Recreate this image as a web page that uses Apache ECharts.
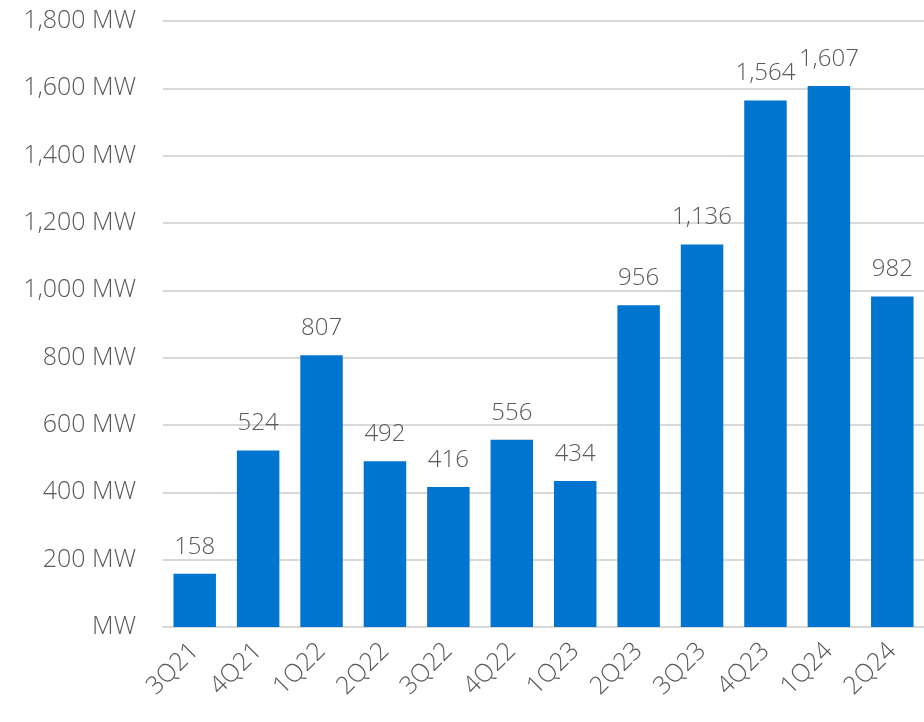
<!DOCTYPE html>
<html><head><meta charset="utf-8">
<script src="https://cdn.jsdelivr.net/npm/echarts@6/dist/echarts.min.js"></script>
<style>html,body{margin:0;padding:0;background:#fff}#c{width:924px;height:722px}</style>
</head><body><div id="c"></div>
<script>
const categories = ['3Q21','4Q21','1Q22','2Q22','3Q22','4Q22','1Q23','2Q23','3Q23','4Q23','1Q24','2Q24'];
const values = [158,524,807,492,416,556,434,956,1136,1564,1607,982];
const yTicks = [0,200,400,600,800,1000,1200,1400,1600,1800];

const chart = echarts.init(document.getElementById('c'), null, {renderer:'canvas'});
const font = '"Open Sans", "Noto Sans", sans-serif';
chart.setOption({
  animation:false,
  grid:{left:163,right:-8,top:21,bottom:95,containLabel:false},
  xAxis:{type:'category',data:categories,
    axisLine:{show:true,lineStyle:{color:'#d9d9d9',width:2}},
    axisTick:{show:false},
    axisLabel:{rotate:45,margin:20,color:'#595959',fontSize:25,fontWeight:300,fontFamily:font}},
  yAxis:{type:'value',min:yTicks[0],max:yTicks[yTicks.length-1],interval:200,
    axisLine:{show:false},axisTick:{show:false},
    splitLine:{lineStyle:{color:'#d9d9d9',width:2}},
    axisLabel:{margin:27,color:'#595959',fontSize:25,fontWeight:300,fontFamily:font,
      formatter:v=> v===0 ? 'MW' : v.toLocaleString('en-US')+' MW'}},
  series:[{type:'bar',data:values,barCategoryGap:'33%',
    itemStyle:{color:'#0075CF'},
    label:{show:true,position:'top',distance:15,color:'#595959',fontSize:24,fontWeight:300,fontFamily:font,
      formatter:p=>p.value.toLocaleString('en-US')}}]
});
</script></body></html>
